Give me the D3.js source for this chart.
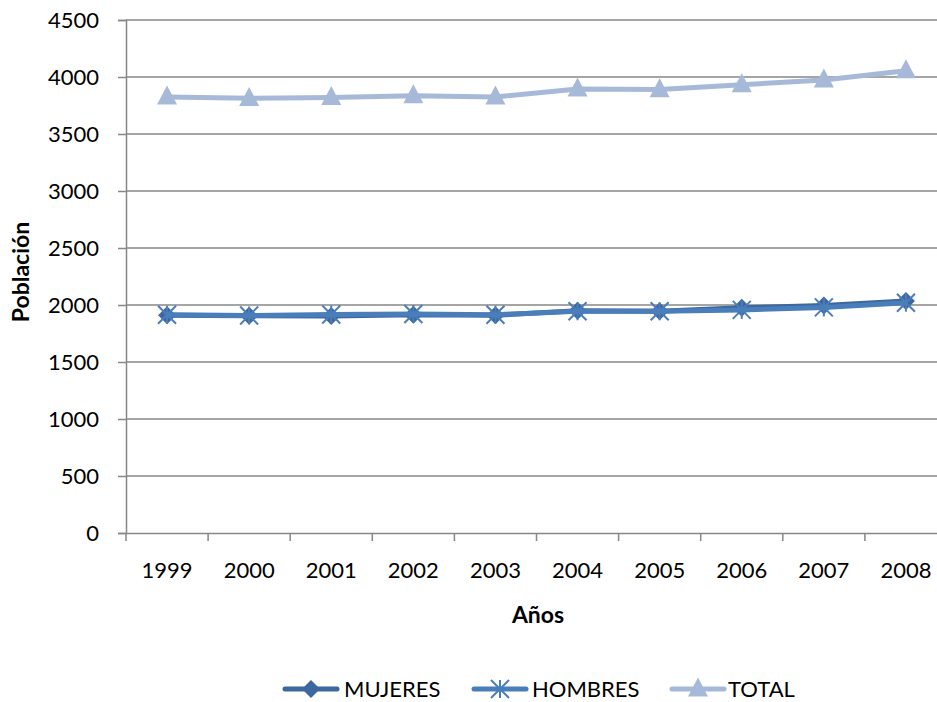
<!DOCTYPE html>
<html><head><meta charset="utf-8">
<script src="https://cdn.jsdelivr.net/npm/d3@7"></script>
<style>body{margin:0;background:#fff}svg{display:block;font-family:Lato,"Open Sans",sans-serif}</style>
</head><body><svg id="c" width="937" height="702"></svg>
<script>
const years = ["1999","2000","2001","2002","2003","2004","2005","2006","2007","2008"];
const mujeres = [1910,1905,1903,1915,1910,1950,1945,1975,1995,2035];
const hombres = [1915,1908,1917,1921,1915,1945,1945,1957,1979,2020];
const total = [3825,3813,3820,3836,3825,3895,3890,3932,3974,4055];
const yTicks = [0,500,1000,1500,2000,2500,3000,3500,4000,4500];
const seriesNames = ["MUJERES","HOMBRES","TOTAL"];
const colors = ["#3C679F","#4A7EBB","#A7B9D8"];

const svg = d3.select("#c");
const x = d3.scaleBand().domain(years).range([126,947]);
const y = d3.scaleLinear().domain([0,4500]).range([533,20]);
const grid = "#878787";
const FS = 22;

svg.append("g").selectAll("line").data(yTicks.filter(d=>d>0)).join("line")
  .attr("x1",126).attr("x2",947).attr("y1",d=>y(d)).attr("y2",d=>y(d))
  .attr("stroke",grid).attr("stroke-width",1.5);

const ya = svg.append("g").attr("transform","translate(126,0)")
  .call(d3.axisLeft(y).tickValues(yTicks).tickFormat(d3.format("d")).tickSize(8).tickPadding(19));
ya.select(".domain").attr("stroke",grid).attr("stroke-width",1.5);
ya.selectAll(".tick line").attr("stroke",grid).attr("stroke-width",1.5);
ya.selectAll("text").attr("font-size",FS).attr("fill","#000").attr("font-family","Lato");

const xa = svg.append("g").attr("transform","translate(0,533)")
  .call(d3.axisBottom(x).tickSize(0).tickPadding(29));
xa.select(".domain").attr("stroke",grid).attr("stroke-width",1.5);
xa.selectAll("text").attr("font-size",FS).attr("fill","#000").attr("font-family","Lato");
svg.append("g").selectAll("line").data(d3.range(years.length+1)).join("line")
  .attr("x1",i=>126+i*x.step()).attr("x2",i=>126+i*x.step())
  .attr("y1",533).attr("y2",541).attr("stroke",grid).attr("stroke-width",1.5);

svg.append("text").attr("x",538).attr("y",623).attr("text-anchor","middle")
  .attr("font-weight","bold").attr("font-size",23).text("Años");
svg.append("text").attr("transform","translate(29,272) rotate(-90)").attr("text-anchor","middle")
  .attr("font-weight","bold").attr("font-size",23).text("Población");

const cx = d => x(d)+x.bandwidth()/2;
const line = d3.line().x((d,i)=>cx(years[i])).y(d=>y(d));

function drawMarker(g, type, color, px, py){
  if(type==="diamond"){
    const r=9;
    g.append("path").attr("d",`M${px},${py-r}L${px+r},${py}L${px},${py+r}L${px-r},${py}Z`).attr("fill",color);
  } else if(type==="star"){
    const s=9;
    [[-s,-s,s,s],[-s,s,s,-s],[0,-s,0,s]].forEach(l=>{
      g.append("line").attr("x1",px+l[0]).attr("y1",py+l[1]).attr("x2",px+l[2]).attr("y2",py+l[3])
       .attr("stroke",color).attr("stroke-width",2);
    });
  } else {
    const w=10,h=19;
    g.append("path").attr("d",`M${px},${py-h*0.6}L${px+w},${py+h*0.4}L${px-w},${py+h*0.4}Z`).attr("fill",color);
  }
}

const data = [[mujeres,"diamond"],[hombres,"star"],[total,"tri"]];
data.forEach(([vals,type],k)=>{
  const g = svg.append("g");
  g.append("path").datum(vals).attr("d",line).attr("fill","none").attr("stroke",colors[k]).attr("stroke-width",5).attr("stroke-linejoin","round");
  vals.forEach((v,i)=>drawMarker(g,type,colors[k],cx(years[i]),y(v)));
});

const legX = [283, 472, 670];
const legT = [344, 532, 728];
const lg = svg.append("g");
seriesNames.forEach((n,k)=>{
  const x0 = legX[k], yy = 689;
  lg.append("line").attr("x1",x0+2).attr("x2",x0+54).attr("y1",yy).attr("y2",yy)
    .attr("stroke",colors[k]).attr("stroke-width",5).attr("stroke-linecap","round");
  drawMarker(lg,data[k][1],colors[k],x0+28,yy);
  lg.append("text").attr("x",legT[k]).attr("y",yy+8).attr("font-size",FS).text(n);
});
</script></body></html>
